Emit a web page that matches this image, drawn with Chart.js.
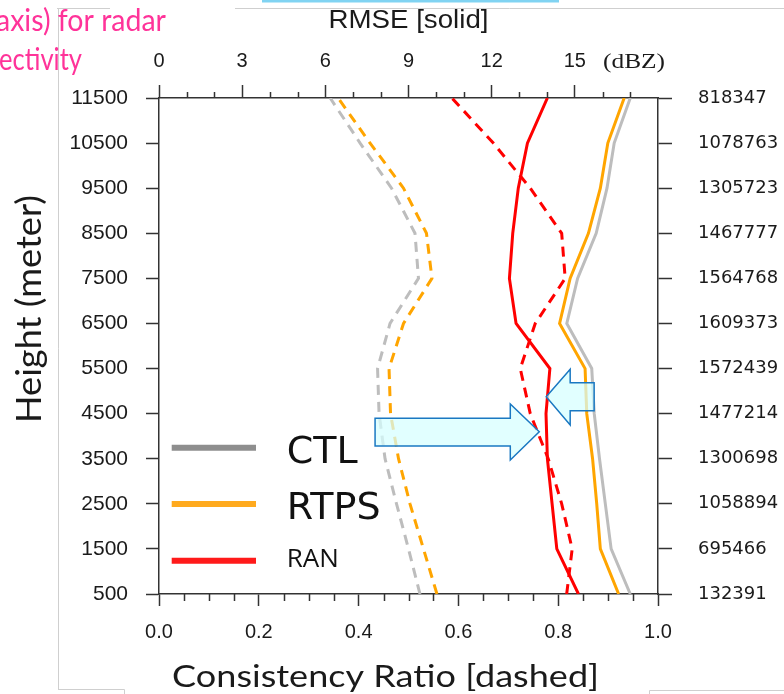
<!DOCTYPE html>
<html>
<head>
<meta charset="utf-8">
<script src="https://cdn.jsdelivr.net/npm/chart.js@4.4.1/dist/chart.umd.min.js"></script>
<style>
  html, body { margin: 0; padding: 0; background: #ffffff; }
  canvas { display: block; }
</style>
</head>
<body>
<canvas id="c" width="784" height="694"></canvas>
<script>
// Vertical levels (m) and number of radar observations used at each level
const heights = [500, 1500, 2500, 3500, 4500, 5500, 6500, 7500, 8500, 9500, 10500, 11500];
const obsCount = [132391, 695466, 1058894, 1300698, 1477214, 1572439, 1609373, 1564768, 1467777, 1305723, 1078763, 818347];

// RMSE of reflectivity (dBZ), top axis, solid lines
const rmseCTL  = [17.00, 16.31, 16.10, 15.89, 15.70, 15.61, 14.71, 15.10, 15.77, 16.16, 16.42, 17.00];
const rmseRTPS = [16.58, 15.92, 15.79, 15.64, 15.43, 15.37, 14.45, 14.83, 15.49, 15.92, 16.19, 16.78];
const rmseRAN  = [15.13, 14.35, 14.18, 14.01, 13.96, 14.10, 12.88, 12.64, 12.76, 12.96, 13.29, 14.01];

// Consistency ratio, bottom axis, dashed lines
const crCTL  = [0.523, 0.500, 0.476, 0.453, 0.441, 0.438, 0.463, 0.520, 0.513, 0.466, 0.403, 0.343];
const crRTPS = [0.557, 0.530, 0.503, 0.480, 0.464, 0.461, 0.490, 0.547, 0.536, 0.490, 0.423, 0.359];
const crRAN  = [0.817, 0.828, 0.807, 0.780, 0.744, 0.724, 0.754, 0.814, 0.807, 0.744, 0.670, 0.587];

const experiments = ['CTL', 'RTPS', 'RAN'];

const COL = { CTL: '#bdbdbd', RTPS: '#ffa500', RAN: '#ff0000' };
const LEGEND_COL = { CTL: '#8e8e8e', RTPS: '#ffaa1e', RAN: '#ff1a1a' };
const AXIS = '#333333';
const TXT = '#1a1a1a';

const profile = vals => vals.map((v, i) => ({ x: v, y: heights[i] }));

function solid(name, vals) {
  return { label: name + ' RMSE', data: profile(vals), xAxisID: 'xRmse', yAxisID: 'y',
           borderColor: COL[name], borderWidth: 3, pointRadius: 0, tension: 0 };
}
function dashed(name, vals) {
  return { label: name + ' CR', data: profile(vals), xAxisID: 'xCR', yAxisID: 'y',
           borderColor: COL[name], borderWidth: 3, borderDash: [10, 7], pointRadius: 0, tension: 0 };
}

function fitText(c, text, x, y, font, color, align, width) {
  c.save();
  c.font = font;
  c.fillStyle = color;
  c.textBaseline = 'alphabetic';
  c.textAlign = align;
  const w = c.measureText(text).width;
  c.translate(x, y);
  if (width) c.scale(width / w, 1);
  c.fillText(text, 0, 0);
  c.restore();
}

const decorations = {
  id: 'decorations',
  beforeDraw(chart) {
    const c = chart.ctx;
    c.save();
    // page frame
    c.strokeStyle = '#cfcfcf';
    c.lineWidth = 1;
    c.beginPath();
    c.moveTo(57, 8.5); c.lineTo(110, 8.5);
    c.moveTo(235, 8.5); c.lineTo(784, 8.5);
    c.moveTo(58.5, 8); c.lineTo(58.5, 689.5);
    c.moveTo(58, 689.5); c.lineTo(124.5, 689.5); c.lineTo(124.5, 694);
    c.moveTo(649.5, 694); c.lineTo(649.5, 690.5); c.lineTo(784, 690.5);
    c.stroke();
    c.fillStyle = '#80d3f2';
    c.fillRect(262, 0, 297, 2.5);
    c.restore();
  },
  afterDatasetsDraw(chart) {
    const c = chart.ctx;
    const X = v => chart.scales.xCR.getPixelForValue(v);
    const Y = v => chart.scales.y.getPixelForValue(v);
    const arrows = [
      [[0.433, 4397], [0.704, 4397], [0.704, 4714], [0.762, 4099], [0.704, 3472], [0.704, 3782], [0.433, 3782]],
      [[0.776, 4876], [0.824, 5483], [0.824, 5186], [0.872, 5186], [0.872, 4565], [0.824, 4565], [0.824, 4248]]
    ];
    c.save();
    c.fillStyle = 'rgba(214, 255, 255, 0.72)';
    c.strokeStyle = '#1a78c2';
    c.lineWidth = 1.5;
    c.lineJoin = 'miter';
    arrows.forEach(poly => {
      c.beginPath();
      poly.forEach(([vx, vy], i) => i ? c.lineTo(X(vx), Y(vy)) : c.moveTo(X(vx), Y(vy)));
      c.closePath();
      c.fill();
      c.stroke();
    });
    c.restore();
  },
  afterDraw(chart) {
    const c = chart.ctx;
    const top = chart.scales.xRmse, bot = chart.scales.xCR;
    const area = chart.chartArea;
    c.save();
    c.strokeStyle = AXIS;
    c.lineWidth = 1.5;
    c.beginPath();
    // minor ticks, every 1 dBZ on top and every 0.05 on the bottom
    for (let v = 1; v < 18; v++) {
      if (v % 3 === 0) continue;
      const px = Math.round(top.getPixelForValue(v)) + 0.5;
      c.moveTo(px, area.top); c.lineTo(px, area.top - 6);
    }
    for (let k = 1; k < 20; k++) {
      if (k % 4 === 0) continue;
      const px = Math.round(bot.getPixelForValue(k * 0.05)) + 0.5;
      c.moveTo(px, area.bottom); c.lineTo(px, area.bottom + 7);
    }
    c.stroke();
    c.restore();

    // axis titles
    fitText(c, 'RMSE [solid]', 408.5, 27.5, '25px "Liberation Sans"', TXT, 'center', 160);
    fitText(c, '(dBZ)', 603, 68, '22px "Liberation Serif"', TXT, 'left', 62);
    fitText(c, 'Consistency Ratio [dashed]', 385.6, 687, '31px Lato', TXT, 'center', 427);
    c.save();
    c.translate(40.5, 309);
    c.rotate(-Math.PI / 2);
    fitText(c, 'Height (meter)', 0, 0, '35px Lato', TXT, 'center', 228);
    c.restore();

    // side note
    fitText(c, 'axis) for radar', 166, 30.5, '31px Lato', '#ff3399', 'right', 170);
    fitText(c, 'ectivity', 82, 70, '31px Lato', '#ff3399', 'right', 83);

    // legend
    const rows = [
      { name: 'CTL',  y: 447.7, ty: 462.7, font: '38px "DejaVu Sans"' },
      { name: 'RTPS', y: 504,   ty: 519.3, font: '38px "DejaVu Sans"' },
      { name: 'RAN',  y: 560.7, ty: 566.7, font: '26px "Open Sans"' }
    ];
    c.save();
    c.lineWidth = 6;
    rows.forEach(r => {
      c.strokeStyle = LEGEND_COL[r.name];
      c.beginPath();
      c.moveTo(171.7, r.y); c.lineTo(256, r.y);
      c.stroke();
      fitText(c, r.name, 286.7, r.ty, r.font, '#111111', 'left');
    });
    c.restore();
  }
};

const tickFont = size => ({ family: '"Liberation Sans", Arial, sans-serif', size: size });
const gridOpts = len => ({ drawOnChartArea: false, drawTicks: true, tickLength: len, tickColor: AXIS, tickWidth: 1.5 });
const borderOpts = { display: true, color: AXIS, width: 1.5 };

new Chart(document.getElementById('c'), {
  type: 'line',
  data: {
    datasets: [
      dashed('CTL', crCTL), dashed('RTPS', crRTPS), dashed('RAN', crRAN),
      solid('CTL', rmseCTL), solid('RTPS', rmseRTPS), solid('RAN', rmseRAN)
    ]
  },
  options: {
    responsive: false,
    animation: false,
    events: [],
    layout: { padding: 0 },
    plugins: { legend: { display: false }, tooltip: { enabled: false } },
    scales: {
      xCR: {
        type: 'linear', position: 'bottom', min: 0, max: 1,
        ticks: { stepSize: 0.2, callback: v => v.toFixed(1), font: tickFont(20), color: TXT, padding: 14, maxRotation: 0 },
        grid: gridOpts(12), border: borderOpts,
        afterFit: s => { s.height = 100; }
      },
      xRmse: {
        type: 'linear', position: 'top', min: 0, max: 18,
        afterBuildTicks: s => { s.ticks = s.ticks.filter(t => t.value < 18); },
        ticks: { stepSize: 3, callback: v => String(v), font: tickFont(20), color: TXT, padding: 12, maxRotation: 0 },
        grid: gridOpts(13), border: borderOpts,
        afterFit: s => { s.height = 98; }
      },
      y: {
        type: 'linear', position: 'left', min: 500, max: 11500,
        ticks: { stepSize: 1000, callback: v => String(v), font: tickFont(21), color: TXT, padding: 18 },
        grid: gridOpts(13), border: borderOpts,
        afterFit: s => { s.width = 159; }
      },
      yCount: {
        type: 'linear', position: 'right', min: 500, max: 11500,
        ticks: {
          stepSize: 1000,
          callback: v => { const i = heights.indexOf(v); return i >= 0 ? String(obsCount[i]) : ''; },
          font: { family: '"DejaVu Sans", sans-serif', size: 18 }, color: TXT, padding: 26
        },
        grid: gridOpts(14), border: borderOpts,
        afterFit: s => { s.width = 126; }
      }
    }
  },
  plugins: [decorations]
});
</script>
</body>
</html>
